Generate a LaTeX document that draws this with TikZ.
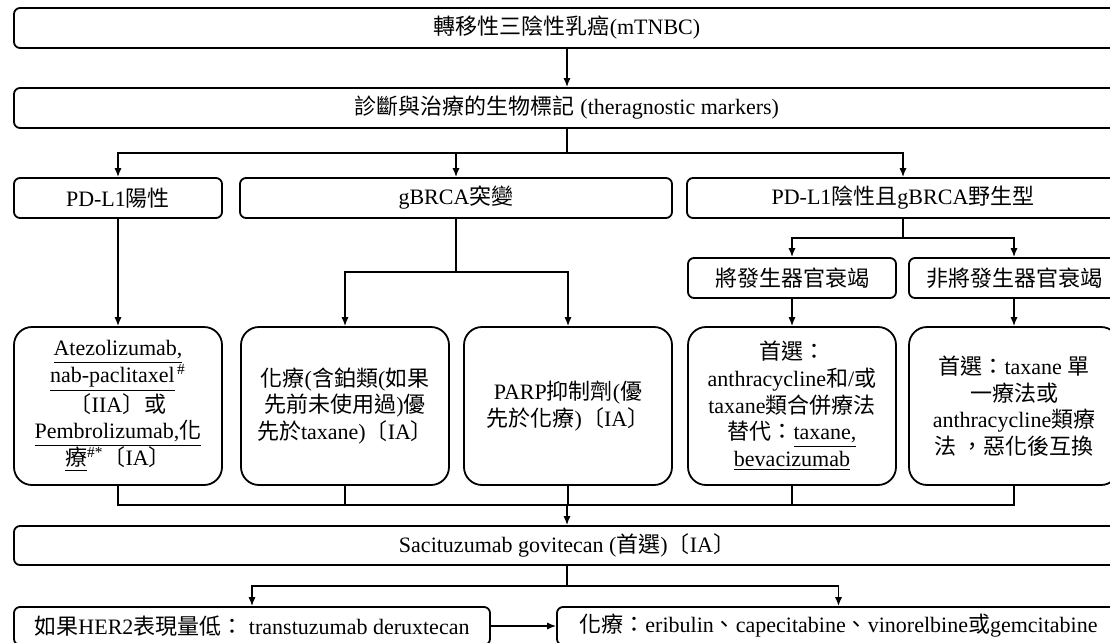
\documentclass[tikz,border=0pt]{standalone}
\usepackage{fontspec}
\setmainfont{Liberation Serif}
\newfontfamily\cjk{Noto Sans CJK TC}
\usetikzlibrary{arrows.meta}
\XeTeXinterchartokenstate=1
\newXeTeXintercharclass\CJKcls
\makeatletter
\def\setcjkrange#1#2{\count@=#1\relax\loop\XeTeXcharclass\count@=\CJKcls\ifnum\count@<#2\advance\count@\@ne\repeat}
\setcjkrange{"3000}{"303F}
\setcjkrange{"4E00}{"9FFF}
\setcjkrange{"FF00}{"FFEF}
\makeatother
\XeTeXinterchartoks 0 \CJKcls={\begingroup\cjk}
\XeTeXinterchartoks 4095 \CJKcls={\begingroup\cjk}
\XeTeXinterchartoks \CJKcls 0={\endgroup}
\XeTeXinterchartoks \CJKcls 4095={\endgroup}
\tikzset{
  sbox/.style={draw, line width=0.9pt, rounded corners=3pt, inner sep=0pt, align=center,
    font=\fontsize{11}{13.35}\selectfont},
  tbox/.style={sbox, rounded corners=9pt},
  arr/.style={-{Latex[length=4.5pt,width=3.6pt]}, line width=0.75pt},
  ln/.style={line width=0.75pt}
}
\begin{document}
\begin{tikzpicture}[x=0.5pt,y=-0.5pt]
\useasboundingbox (0,0) rectangle (1110,643);
\clip (0,0) rectangle (1110,643);
% row 1-2
\node[sbox, minimum width=553pt, minimum height=20pt] (n1) at (567,28) {轉移性三陰性乳癌(mTNBC)};
\node[sbox, minimum width=553pt, minimum height=20pt] (n2) at (567,108) {診斷與治療的生物標記 (theragnostic markers)};
% row 3
\node[sbox, minimum width=104pt, minimum height=20pt] (a) at (118,198) {PD-L1陽性};
\node[sbox, minimum width=216pt, minimum height=20pt] (b) at (456,198) {gBRCA突變};
\node[sbox, minimum width=216pt, minimum height=20pt] (c) at (903,198) {PD-L1陰性且gBRCA野生型};
% sub row
\node[sbox, minimum width=104pt, minimum height=20pt] (c1) at (792,278) {將發生器官衰竭};
\node[sbox, minimum width=105pt, minimum height=20pt] (c2) at (1014,278) {非將發生器官衰竭};
% row 4
\node[tbox, minimum width=104pt, minimum height=79pt] (d1) at (118,406)
  {\underline{Atezolizumab,}\\ \underline{nab-paclitaxel}\textsuperscript{\,\#}\\ 〔IIA〕或\\ \underline{Pembrolizumab,化}\\ \underline{療}\textsuperscript{\#*}〔IA〕};
\node[tbox, minimum width=104pt, minimum height=79pt] (d2) at (345,406)
  {化療(含鉑類(如果\\先前未使用過)優\\先於taxane)〔IA〕};
\node[tbox, minimum width=104pt, minimum height=79pt] (d3) at (568,406)
  {PARP抑制劑(優\\先於化療)〔IA〕};
\node[tbox, minimum width=104pt, minimum height=79pt] (d4) at (792,406)
  {首選：\\anthracycline和/或\\taxane類合併療法\\替代：\underline{taxane,}\\ \underline{bevacizumab}};
\node[tbox, minimum width=105pt, minimum height=79pt] (d5) at (1014,406)
  {首選：taxane 單\\一療法或\\anthracycline類療\\法 ，惡化後互換};
% row 5
\node[sbox, minimum width=553pt, minimum height=19.5pt] (n3) at (567,545.5) {Sacituzumab govitecan (首選)〔IA〕};
% row 6
\node[sbox, minimum width=238pt, minimum height=19pt] (e1) at (252,626) {如果HER2表現量低： transtuzumab deruxtecan};
\node[sbox, minimum width=281.5pt, minimum height=19pt] (e2) at (838.5,626) {化療：eribulin、capecitabine、vinorelbine或gemcitabine};
% junctions
\coordinate (j1) at (567,153);
\coordinate (j2) at (456,272);
\coordinate (j3) at (903,238);
\coordinate (j4) at (567,505);
\coordinate (j5) at (567,586);
% connectors
\draw[arr] (n1) -- (n2);
\draw[ln] (n2.south) -- (j1);
\draw[arr] (j1) -| (a.north);
\draw[arr] (j1) -| (b.north);
\draw[arr] (j1) -| (c.north);
\draw[arr] (a) -- (d1);
\draw[ln] (b.south) -- (j2);
\draw[arr] (j2) -| (d2.north);
\draw[arr] (j2) -| (d3.north);
\draw[ln] (c.south) -- (j3);
\draw[arr] (j3) -| (c1.north);
\draw[arr] (j3) -| (c2.north);
\draw[arr] (c1) -- (d4);
\draw[arr] (c2) -- (d5);
\draw[ln] (d1.south) |- (j4);
\draw[ln] (d2.south) |- (j4);
\draw[ln] (d3.south) |- (j4);
\draw[ln] (d4.south) |- (j4);
\draw[ln] (d5.south) |- (j4);
\draw[arr] (j4) -- (n3.north);
\draw[ln] (n3.south) -- (j5);
\draw[arr] (j5) -| (e1.north);
\draw[arr] (j5) -| (e2.north);
\draw[arr] (e1) -- (e2);
\end{tikzpicture}
\end{document}
